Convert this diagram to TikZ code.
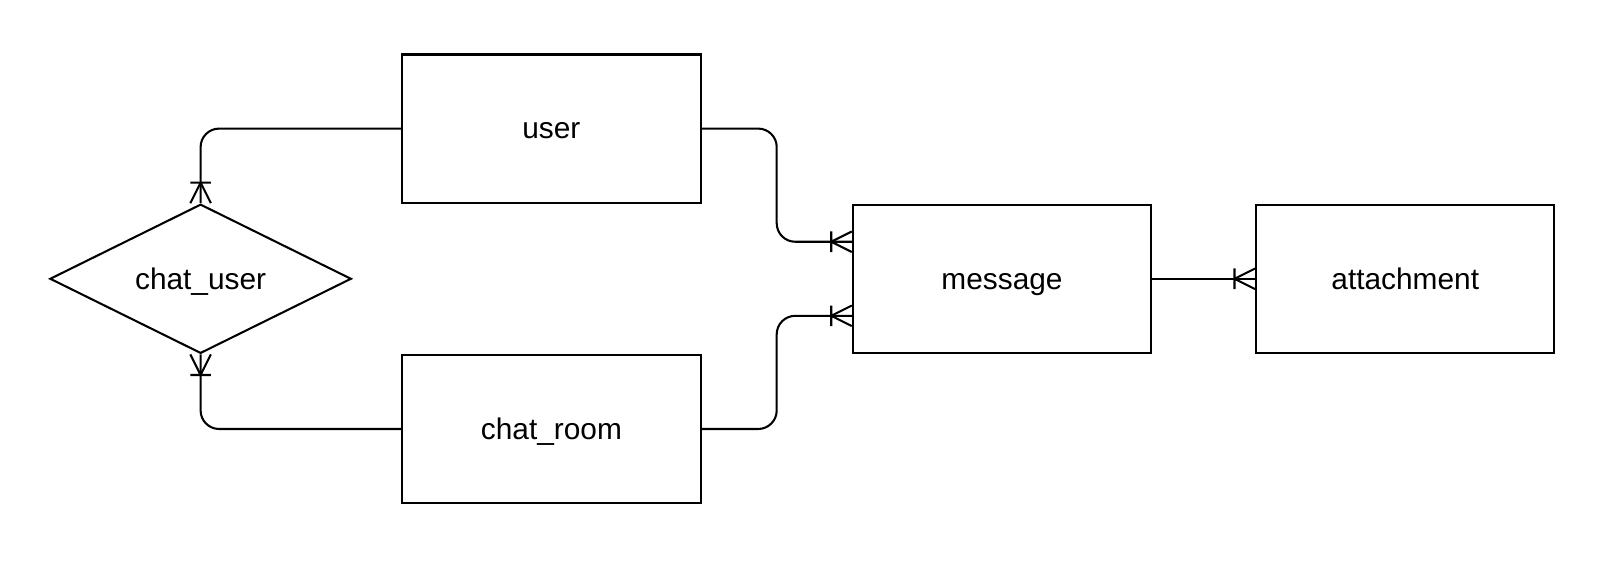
\documentclass[tikz,border=0pt]{standalone}
\usepackage{fontspec}
\setmainfont{Liberation Sans}
\usepackage{tikz}
\usetikzlibrary{shapes.geometric}
% crow's foot with bar (one or many)
\pgfdeclarearrow{
  name = crowbar,
  setup code = {
    \pgfarrowssettipend{0pt}
    \pgfarrowssetlineend{0pt}
    \pgfarrowssetbackend{-10pt}
    \pgfarrowshullpoint{0pt}{5pt}
    \pgfarrowshullpoint{0pt}{-5pt}
    \pgfarrowshullpoint{-10pt}{5pt}
    \pgfarrowshullpoint{-10pt}{-5pt}
  },
  drawing code = {
    \pgfsetdash{}{0pt}
    \pgfpathmoveto{\pgfpoint{0pt}{5pt}}
    \pgfpathlineto{\pgfpoint{-10pt}{0pt}}
    \pgfpathlineto{\pgfpoint{0pt}{-5pt}}
    \pgfpathmoveto{\pgfpoint{-10pt}{5pt}}
    \pgfpathlineto{\pgfpoint{-10pt}{-5pt}}
    \pgfusepathqstroke
  }
}
\tikzset{every node/.style={font=\fontsize{14.5}{17}\selectfont, text height=13pt, text depth=3pt}}

\begin{document}
\begin{tikzpicture}[x=0.5pt, y=-0.5pt, >=crowbar, line width=1pt,
  entity/.style={draw, rectangle, minimum width=145pt, minimum height=72pt, inner sep=0pt},
  relation/.style={draw, diamond, aspect=2, minimum width=146.5pt, minimum height=72.5pt, inner sep=0pt},
  link/.style={->, rounded corners=9pt}]
\useasboundingbox (0,0) rectangle (1566,566);
\node[entity] (user) at (536,125) {user};
\node[entity] (chatroom) at (536,417) {chat\_room};
\node[entity] (message) at (974,271) {message};
\node[entity] (attachment) at (1366,271) {attachment};
\node[relation] (chatuser) at (195,271) {chat\_user};
\draw[link] (user.west) -| (chatuser.north);
\draw[link] (chatroom.west) -| (chatuser.south);
\draw[link] (user.east) -- ++(73,0) |- ([yshift=18pt]message.west);
\draw[link] (chatroom.east) -- ++(73,0) |- ([yshift=-18pt]message.west);
\draw[link] (message.east) -- (attachment.west);
\end{tikzpicture}
\end{document}
